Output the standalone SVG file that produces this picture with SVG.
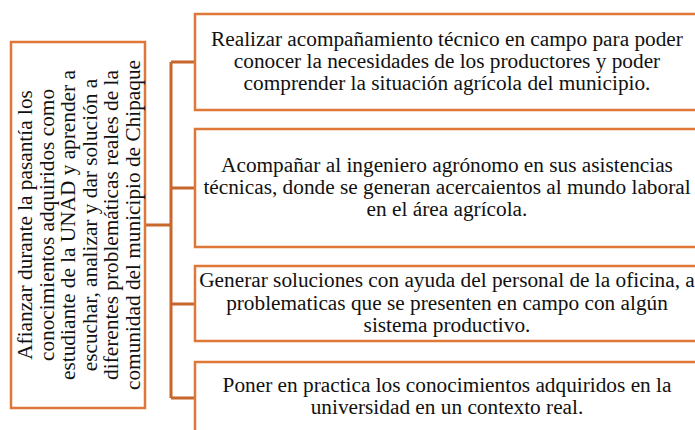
<svg xmlns="http://www.w3.org/2000/svg" width="695" height="430" viewBox="0 0 695 430">
<style>
.box{fill:#fff;stroke:#DE7737;stroke-width:2.5}
.conn{fill:none;stroke:#C8672C;stroke-width:3}
.t{font-family:'Liberation Serif','Times New Roman',serif;font-size:21.3px;fill:#111;text-anchor:middle}
</style>
<rect width="695" height="430" fill="#fff"/>
<g id="connectors">
<path class="conn" d="M146 225H171M171 62V398M171 62H195M171 188H195M171 304H195M171 398H195"/>
</g>
<g id="main">
<rect class="box" x="11" y="42" width="134" height="366"/>
<g transform="translate(0,225) rotate(-90)">
<text class="t" x="0" y="32">Afianzar durante la pasantía los</text>
<text class="t" x="0" y="53.6">conocimientos adquiridos como</text>
<text class="t" x="0" y="75.2">estudiante de la UNAD y aprender a</text>
<text class="t" x="0" y="96.8">escuchar, analizar y dar solución a</text>
<text class="t" x="0" y="118.4">diferentes problemáticas reales de la</text>
<text class="t" x="0" y="140">comunidad del municipio de Chipaque</text>
</g>
</g>
<g id="box1">
<rect class="box" x="195" y="14" width="520" height="96"/>
<text class="t" x="447" y="45.5">Realizar acompañamiento técnico en campo para poder</text>
<text class="t" x="447" y="67.5">conocer la necesidades de los productores y poder</text>
<text class="t" x="447" y="90">comprender  la situación agrícola del municipio.</text>
</g>
<g id="box2">
<rect class="box" x="195" y="129" width="520" height="118"/>
<text class="t" x="447" y="171.5">Acompañar al ingeniero agrónomo en sus asistencias</text>
<text class="t" x="447" y="193.5">técnicas, donde se generan acercaientos al mundo laboral</text>
<text class="t" x="447" y="215.5">en el área agrícola.</text>
</g>
<g id="box3">
<rect class="box" x="195" y="266" width="520" height="75"/>
<text class="t" x="447" y="287">Generar soluciones con ayuda del personal de la oficina, a</text>
<text class="t" x="447" y="309.5">problematicas que se presenten en campo con algún</text>
<text class="t" x="447" y="331.5">sistema productivo.</text>
</g>
<g id="box4">
<rect class="box" x="195" y="362" width="520" height="90"/>
<text class="t" x="447" y="392">Poner en practica los conocimientos adquiridos en la</text>
<text class="t" x="447" y="414">universidad en un contexto real.</text>
</g>
</svg>
